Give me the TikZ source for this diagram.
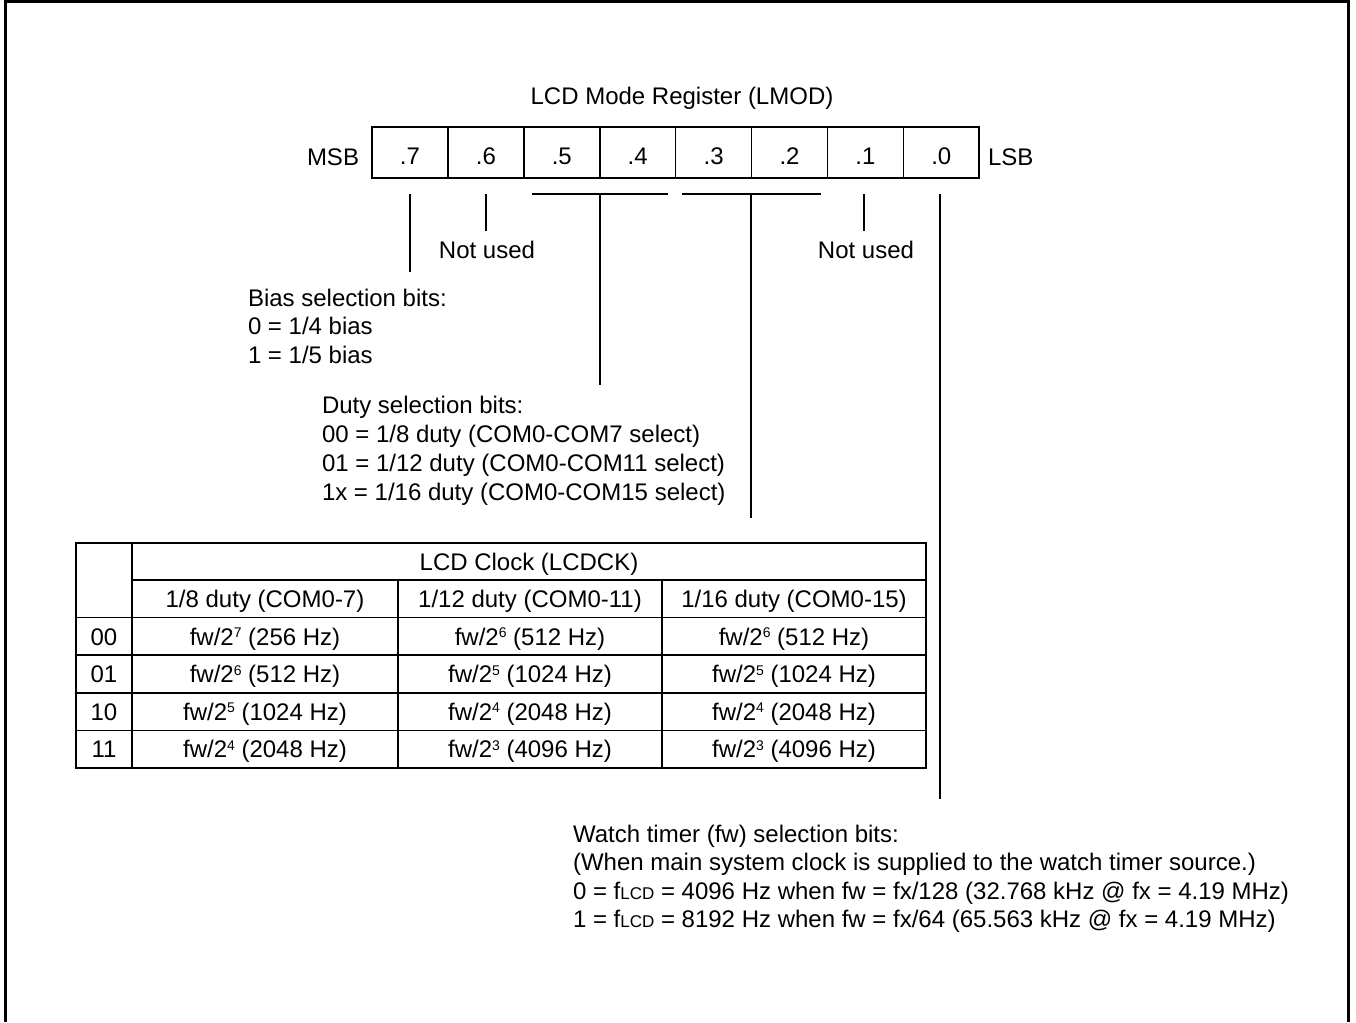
\documentclass[tikz,border=0pt]{standalone}
\usepackage{fontspec}
\setmainfont{Liberation Sans}
\newcommand\supnum[1]{\raisebox{7.5pt}{\fontsize{14}{14}\selectfont #1}}
\begin{document}
\begin{tikzpicture}[x=1pt,y=-1pt,
  every node/.style={font=\fontsize{24}{28.5}\selectfont, inner sep=0pt, outer sep=0pt},
  cell/.style={draw, line width=1.6pt, minimum width=75.9pt, minimum height=51pt, anchor=center, text height=24pt, text depth=0pt},
  lead/.style={line width=1.6pt},
  tline/.style={line width=1.6pt},
  txt/.style={anchor=base west},
  ctxt/.style={anchor=base}]
\useasboundingbox (0,0) rectangle (1356,1022);
% frame
\draw[line width=3pt] (5,1022) -- (5,1.5) -- (1348,1.5) -- (1348,1022);

% title
\node[ctxt] (title) at (682,104.5) {LCD Mode Register (LMOD)};

% register cells
\node[cell] (b7) at (410,152.5) {.7};
\node[cell] (b6) at (485.9,152.5) {.6};
\node[cell] (b5) at (561.8,152.5) {.5};
\node[cell] (b4) at (637.7,152.5) {.4};
\node[cell] (b3) at (713.6,152.5) {.3};
\node[cell] (b2) at (789.5,152.5) {.2};
\node[cell] (b1) at (865.4,152.5) {.1};
\node[cell] (b0) at (941.3,152.5) {.0};
\node[ctxt] (msb) at (333,165) {MSB};
\node[anchor=base west] (lsb) at (988,165) {LSB};

% leader coordinates
\coordinate (l7a) at (410,194);   \coordinate (l7b) at (410,272);
\coordinate (l6a) at (486,194);   \coordinate (l6b) at (486,231);
\coordinate (l54l) at (532,194);  \coordinate (l54r) at (668,194);
\coordinate (l54a) at (600,194);  \coordinate (l54b) at (600,385);
\coordinate (l32l) at (682,194);  \coordinate (l32r) at (821,194);
\coordinate (l32a) at (751,194);  \coordinate (l32b) at (751,518);
\coordinate (l1a) at (864,194);   \coordinate (l1b) at (864,231);
\coordinate (l0a) at (940,194);   \coordinate (l0b) at (940,799);

\draw[lead] (l7a) -- (l7b);
\draw[lead] (l6a) -- (l6b);
\draw[lead] (l54l) -- (l54r);
\draw[lead] (l54a) -- (l54b);
\draw[lead] (l32l) -- (l32r);
\draw[lead] (l32a) -- (l32b);
\draw[lead] (l1a) -- (l1b);
\draw[lead] (l0a) -- (l0b);

\node[ctxt] (nu6) at (487,258.5) {Not used};
\node[ctxt] (nu1) at (866,258.5) {Not used};

% bias text
\node[txt] (bias1) at (248,306) {Bias selection bits:};
\node[txt] (bias2) at (248,334.5) {0 = 1/4 bias};
\node[txt] (bias3) at (248,363) {1 = 1/5 bias};

% duty text
\node[txt] (duty1) at (322,413.5) {Duty selection bits:};
\node[txt] (duty2) at (322,442.5) {00 = 1/8 duty (COM0-COM7 select)};
\node[txt] (duty3) at (322,471) {01 = 1/12 duty (COM0-COM11 select)};
\node[txt] (duty4) at (322,500) {1x = 1/16 duty (COM0-COM15 select)};

% table
\draw[tline] (76,543) rectangle (926,768);
\draw[tline] (132,543) -- (132,768);
\draw[tline] (132,580) -- (926,580);
\draw[tline] (76,617.5) -- (926,617.5);
\draw[tline] (76,655) -- (926,655);
\draw[tline] (76,693) -- (926,693);
\draw[tline] (76,730.5) -- (926,730.5);
\draw[tline] (398,580) -- (398,768);
\draw[tline] (662,580) -- (662,768);

\node[ctxt] (hdr) at (529,570) {LCD Clock (LCDCK)};
\node[ctxt] (c1) at (265,607.5) {1/8 duty (COM0-7)};
\node[ctxt] (c2) at (530,607.5) {1/12 duty (COM0-11)};
\node[ctxt] (c3) at (794,607.5) {1/16 duty (COM0-15)};

\node[ctxt] (r0) at (104,645) {00};
\node[ctxt] (r0a) at (265,645) {fw/2\supnum{7} (256 Hz)};
\node[ctxt] (r0b) at (530,645) {fw/2\supnum{6} (512 Hz)};
\node[ctxt] (r0c) at (794,645) {fw/2\supnum{6} (512 Hz)};

\node[ctxt] (r1) at (104,682.5) {01};
\node[ctxt] (r1a) at (265,682.5) {fw/2\supnum{6} (512 Hz)};
\node[ctxt] (r1b) at (530,682.5) {fw/2\supnum{5} (1024 Hz)};
\node[ctxt] (r1c) at (794,682.5) {fw/2\supnum{5} (1024 Hz)};

\node[ctxt] (r2) at (104,720) {10};
\node[ctxt] (r2a) at (265,720) {fw/2\supnum{5} (1024 Hz)};
\node[ctxt] (r2b) at (530,720) {fw/2\supnum{4} (2048 Hz)};
\node[ctxt] (r2c) at (794,720) {fw/2\supnum{4} (2048 Hz)};

\node[ctxt] (r3) at (104,757.5) {11};
\node[ctxt] (r3a) at (265,757.5) {fw/2\supnum{4} (2048 Hz)};
\node[ctxt] (r3b) at (530,757.5) {fw/2\supnum{3} (4096 Hz)};
\node[ctxt] (r3c) at (794,757.5) {fw/2\supnum{3} (4096 Hz)};

% watch timer text
\node[txt] (w1) at (573,842) {Watch timer (fw) selection bits:};
\node[txt] (w2) at (573,870.5) {(When main system clock is supplied to the watch timer source.)};
\node[txt] (w3) at (573,899) {0 = f{\fontsize{17}{20}\selectfont LCD} = 4096 Hz when fw = fx/128 (32.768 kHz @ fx = 4.19 MHz)};
\node[txt] (w4) at (573,927.5) {1 = f{\fontsize{17}{20}\selectfont LCD} = 8192 Hz when fw = fx/64 (65.563 kHz @ fx = 4.19 MHz)};
\end{tikzpicture}
\end{document}
